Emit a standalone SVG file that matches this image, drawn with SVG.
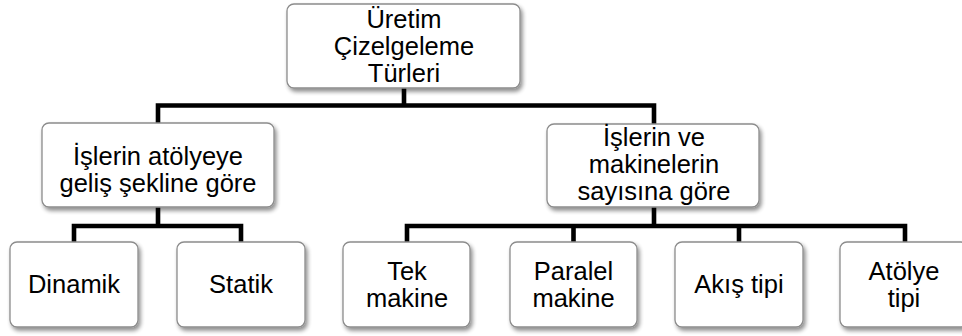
<svg xmlns="http://www.w3.org/2000/svg" width="962" height="336" viewBox="0 0 962 336">
  <defs>
    <filter id="sh" x="-10%" y="-10%" width="125%" height="130%">
      <feGaussianBlur in="SourceAlpha" stdDeviation="2"/>
      <feOffset dx="1.5" dy="3" result="b"/>
      <feComponentTransfer><feFuncA type="linear" slope="0.45"/></feComponentTransfer>
      <feMerge><feMergeNode/><feMergeNode in="SourceGraphic"/></feMerge>
    </filter>
  </defs>
  <style>
    .box { fill: #ffffff; stroke: #8c8c8c; stroke-width: 1.3; filter: url(#sh); }
    .t { font-family: "Liberation Sans", Arial, sans-serif; font-size: 25.5px; fill: #000000; text-anchor: middle; }
    .c { fill: none; stroke: #000000; stroke-width: 4.6; stroke-linejoin: miter; stroke-linecap: butt; }
  </style>
  <rect width="962" height="336" fill="#ffffff"/>
  <g id="connectors">
    <path class="c" d="M404 88 V105.5 M158 123 V105.5 H654 V124"/>
    <path class="c" d="M158 207 V226 M74 242 V226 H241 V242"/>
    <path class="c" d="M654 207 V226 M407 242 V226 H905 V242 M573.5 226 V242 M739 226 V242"/>
  </g>
  <g id="root">
    <rect class="box" x="287" y="4" width="233" height="84" rx="7"/>
    <text class="t" x="404" y="28">Üretim</text>
    <text class="t" x="404" y="55">Çizelgeleme</text>
    <text class="t" x="404" y="82">Türleri</text>
  </g>
  <g id="gelis">
    <rect class="box" x="42" y="123" width="232" height="84" rx="7"/>
    <text class="t" x="158" y="165">İşlerin atölyeye</text>
    <text class="t" x="158" y="192">geliş şekline göre</text>
  </g>
  <g id="sayi">
    <rect class="box" x="547" y="124" width="212" height="83" rx="7"/>
    <text class="t" x="654" y="146">İşlerin ve</text>
    <text class="t" x="654" y="173">makinelerin</text>
    <text class="t" x="654" y="200">sayısına göre</text>
  </g>
  <g id="dinamik">
    <rect class="box" x="10" y="242" width="128" height="85" rx="7"/>
    <text class="t" x="74" y="293">Dinamik</text>
  </g>
  <g id="statik">
    <rect class="box" x="177" y="242" width="128" height="85" rx="7"/>
    <text class="t" x="241" y="293">Statik</text>
  </g>
  <g id="tek">
    <rect class="box" x="343" y="242" width="127" height="85" rx="7"/>
    <text class="t" x="407" y="280">Tek</text>
    <text class="t" x="407" y="307">makine</text>
  </g>
  <g id="paralel">
    <rect class="box" x="510" y="242" width="127" height="85" rx="7"/>
    <text class="t" x="573.5" y="280">Paralel</text>
    <text class="t" x="573.5" y="307">makine</text>
  </g>
  <g id="akis">
    <rect class="box" x="675" y="242" width="128" height="85" rx="7"/>
    <text class="t" x="739" y="293">Akış tipi</text>
  </g>
  <g id="atolye">
    <rect class="box" x="840" y="242" width="128" height="85" rx="7"/>
    <text class="t" x="904" y="280">Atölye</text>
    <text class="t" x="904" y="307">tipi</text>
  </g>
</svg>
